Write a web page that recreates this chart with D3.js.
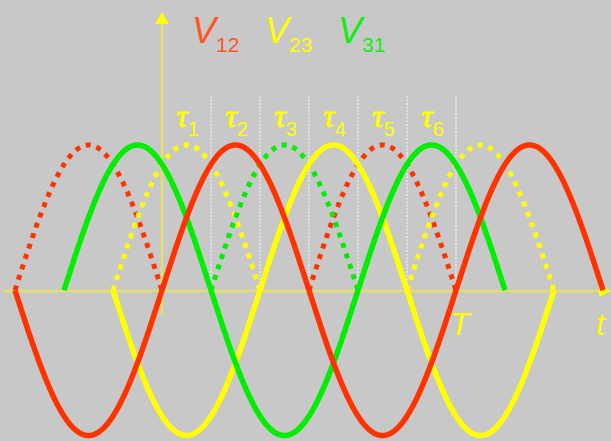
<!DOCTYPE html>
<html>
<head>
<meta charset="utf-8">
<script src="https://cdn.jsdelivr.net/npm/d3@7/dist/d3.min.js"></script>
<style>
  html, body { margin: 0; padding: 0; background: #c8c8c8; }
  svg { display: block; }
</style>
</head>
<body>
<svg id="chart" width="611" height="441"></svg>
<script>
// ---- data (time in units of the period T, voltage in units of the amplitude) ----
const seriesNames = ["V12", "V23", "V31"];
const seriesMain = ["V", "V", "V"];
const seriesSub = ["12", "23", "31"];
const phaseDelay = [0, 1 / 3, 2 / 3];          // delay of each line voltage, in periods
const amplitude = [1, 1, 1];
const solidStart = [-1 / 2, -1 / 6, -1 / 3];    // drawn range of each wave
const solidEnd = [3 / 2, 4 / 3, 7 / 6];
const dottedSpans = [                           // negative halves shown inverted (dotted)
  [[-1 / 2, 0], [1 / 2, 1]],
  [[-1 / 6, 1 / 3], [5 / 6, 4 / 3]],
  [[1 / 6, 2 / 3]]
];
const tauBounds = [0, 1 / 6, 2 / 6, 3 / 6, 4 / 6, 5 / 6, 1];
const tauSubs = ["1", "2", "3", "4", "5", "6"];
const periodLabel = "T";
const timeLabel = "t";

// ---- styles ----
const waveColor = ["#ff3300", "#ffff00", "#00ee00"];
const labelColor = ["#ff5522", "#ffff00", "#11ee11"];
const axisColor = "#e6de6c";

const W = 611, H = 441;
const svg = d3.select("#chart");
svg.append("rect").attr("width", W).attr("height", H).attr("fill", "#c8c8c8");

const x = d3.scaleLinear().domain([0, 1]).range([162, 456]);
const y = d3.scaleLinear().domain([-1, 1]).range([435.5, 145]);

const wave = (i, t) => amplitude[i] * Math.sin(2 * Math.PI * (t - phaseDelay[i]));
const line = d3.line().x(d => x(d[0])).y(d => y(d[1]));
const sample = (a, b, f) => {
  const n = Math.max(2, Math.ceil((b - a) * 720));
  return d3.range(n + 1).map(k => { const t = a + (b - a) * k / n; return [t, f(t)]; });
};

// tau boundary lines
const gTau = svg.append("g");
tauBounds.slice(1).forEach(b => {
  gTau.append("line")
    .attr("x1", x(b)).attr("x2", x(b))
    .attr("y1", 96).attr("y2", y(0))
    .attr("stroke", "#e2e2e2").attr("stroke-width", 2)
    .attr("stroke-dasharray", "2,1.5");
});

// axes
const gAxis = svg.append("g");
gAxis.append("line").attr("x1", 3).attr("x2", 602).attr("y1", 291).attr("y2", 291)
  .attr("stroke", axisColor).attr("stroke-width", 2.5);
gAxis.append("path").attr("d", "M611,291 L599,285 L599,297 Z").attr("fill", "#ffff00");
gAxis.append("line").attr("x1", x(0)).attr("x2", x(0)).attr("y1", 22).attr("y2", 315)
  .attr("stroke", axisColor).attr("stroke-width", 2.5);
gAxis.append("path")
  .attr("d", `M${x(0)},12 L${x(0) - 7},24 L${x(0) + 7},24 Z`).attr("fill", "#ffff00");

// dotted (inverted negative halves)
const gDot = svg.append("g");
seriesNames.forEach((name, i) => {
  dottedSpans[i].forEach(([a, b]) => {
    gDot.append("path")
      .attr("d", line(sample(a, b, t => -wave(i, t))))
      .attr("fill", "none").attr("stroke", waveColor[i])
      .attr("stroke-width", 5).attr("stroke-dasharray", "5,6")
      .attr("stroke-linecap", "butt");
  });
});

// solid waves
const gSolid = svg.append("g");
[1, 2, 0].forEach(i => {
  gSolid.append("path")
    .attr("d", line(sample(solidStart[i], solidEnd[i], t => wave(i, t))))
    .attr("fill", "none").attr("stroke", waveColor[i])
    .attr("stroke-width", 5.5).attr("stroke-linejoin", "round");
});

// legend labels V12 V23 V31
const legendX = [192, 265, 338];
seriesNames.forEach((name, i) => {
  const t = svg.append("text").attr("x", legendX[i]).attr("y", 43)
    .attr("fill", labelColor[i]).style("font-family", "Liberation Sans, Arial, sans-serif");
  t.append("tspan").text(seriesMain[i]).style("font-size", "36px").style("font-style", "italic");
  t.append("tspan").text(seriesSub[i]).attr("dx", 0).attr("dy", 9).style("font-size", "21px");
});

// tau labels
tauSubs.forEach((s, k) => {
  const cx = (x(tauBounds[k]) + x(tauBounds[k + 1])) / 2 + 1;
  const t = svg.append("text").attr("x", cx).attr("y", 127)
    .attr("text-anchor", "middle").attr("fill", "#ffff00");
  t.append("tspan").text("τ").style("font-family", "Liberation Serif, Times New Roman, serif")
    .style("font-style", "italic").style("font-size", "32px")
    .attr("stroke", "#ffff00").attr("stroke-width", 0.8);
  t.append("tspan").text(s).attr("dy", 9)
    .style("font-family", "Liberation Sans, Arial, sans-serif").style("font-size", "20px");
});

// T and t labels
svg.append("text").attr("x", x(1) - 6).attr("y", 335).text(periodLabel)
  .attr("fill", "#ffff00").style("font-family", "Liberation Sans, Arial, sans-serif")
  .style("font-style", "italic").style("font-size", "32px");
svg.append("text").attr("x", 596).attr("y", 335).text(timeLabel)
  .attr("fill", "#ffff00").style("font-family", "Liberation Sans, Arial, sans-serif")
  .style("font-style", "italic").style("font-size", "32px");
</script>
</body>
</html>
